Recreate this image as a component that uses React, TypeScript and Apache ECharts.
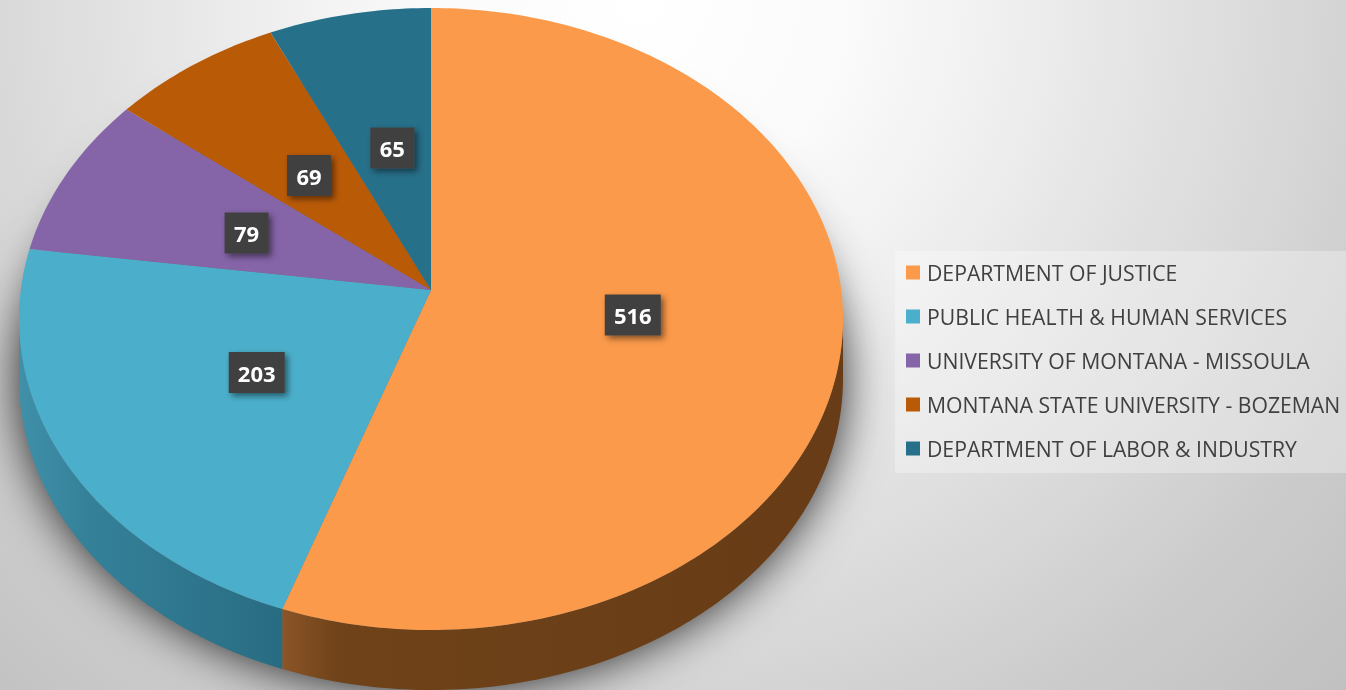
import React, { useEffect, useRef } from "react";
import * as echarts from "echarts";

const categories = [
  "DEPARTMENT OF JUSTICE",
  "PUBLIC HEALTH & HUMAN SERVICES",
  "UNIVERSITY OF MONTANA - MISSOULA",
  "MONTANA STATE UNIVERSITY - BOZEMAN",
  "DEPARTMENT OF LABOR & INDUSTRY",
];
const values = [516, 203, 79, 69, 65];
const colors = ["#FB9A4A", "#4BAFCB", "#8564A8", "#B95A07", "#27708A"];
const wallStops = [
  [[0, "#8B5528"], [0.1, "#6F4219"], [1, "#673C16"]],
  [[0, "#4090AA"], [0.25, "#35819A"], [1, "#286C82"]],
];
const labelNudge = [[-2, -3], [5, -2], [1, 0], [1, 0], [4, 0]];

// perspective disc: apex on screen, half axes, foreshortening, wall depth
const CX = 431, CY = 290, AX = 410.2, AY = 308.3, K = 0.0932, DEPTH = 60;
const total = values.reduce((a, b) => a + b, 0);
const project = (t: number, r = 1) => {
  const w = 1 + K * r * Math.cos(t);
  return [CX + (AX * r * Math.sin(t)) / w, CY - (AY * r * Math.cos(t)) / w];
};
const arc = (a: number, b: number) => {
  const n = Math.max(2, Math.ceil(((b - a) * 180) / Math.PI));
  const pts: number[][] = [];
  for (let i = 0; i <= n; i++) pts.push(project(a + ((b - a) * i) / n));
  return pts;
};
const WALL_A = Math.acos(-K);
const WALL_B = 2 * Math.PI - WALL_A;

const renderSlice = (index: number) => (_params: any, api: any) => {
  const value = api.value(0);
  let before = 0;
  for (let i = 0; i < index; i++) before += values[i];
  const a0 = (before / total) * 2 * Math.PI;
  const a1 = ((before + value) / total) * 2 * Math.PI;
  const children: any[] = [];
  const w0 = Math.max(a0, WALL_A);
  const w1 = Math.min(a1, WALL_B);
  if (w1 > w0) {
    const top = arc(w0, w1);
    const low = top.map((p) => [p[0], p[1] + DEPTH]).reverse();
    children.push({
      type: "polygon",
      shape: { points: top.concat(low) },
      style: {
        fill: {
          type: "linear", x: 0, y: 0, x2: 1, y2: 0,
          colorStops: wallStops[index].map((s) => ({ offset: s[0], color: s[1] })),
        },
      },
    });
  }
  children.push({
    type: "polygon",
    shape: { points: [[CX, CY]].concat(arc(a0, a1)) },
    style: { fill: colors[index] },
  });
  const mid = (a0 + a1) / 2;
  const c = project(mid, 0.5);
  const label = String(value);
  const bw = label.length * 12 + 20;
  const bh = 41;
  const lx = c[0] + labelNudge[index][0];
  const ly = c[1] + 2 + labelNudge[index][1];
  children.push({
    type: "rect",
    z2: 10,
    shape: { x: lx - bw / 2, y: ly - bh / 2, width: bw, height: bh },
    style: { fill: "#404040", shadowBlur: 6, shadowOffsetX: 3, shadowOffsetY: 3, shadowColor: "rgba(0,0,0,0.5)" },
  });
  children.push({
    type: "text",
    z2: 11,
    style: {
      x: lx, y: ly, text: label, fill: "#FFFFFF",
      font: "bold 22px 'Open Sans'", align: "center", verticalAlign: "middle",
    },
  });
  return { type: "group", children };
};

const pageBackground =
  "radial-gradient(circle 990px at 640px 0px, #FFFFFF 0px, #FBFBFB 198px, #F0F0F0 356px, #E2E2E2 525px, #D8D8D8 653px, #CCCCCC 792px, #C0C0C0 990px)";

export default function App() {
  const ref = useRef<HTMLDivElement>(null);
  useEffect(() => {
    const chart = echarts.init(ref.current!, null, { renderer: "svg" });
    chart.setOption({
      animation: false,
      backgroundColor: "transparent",
      legend: {
        data: categories,
        orient: "vertical",
        left: 906,
        top: 262,
        icon: "rect",
        itemWidth: 14,
        itemHeight: 14,
        itemGap: 23,
        padding: 0,
        textStyle: { color: "#404040", fontSize: 21.2, fontFamily: "'Open Sans'", padding: [0, 0, 0, 2] },
        selectedMode: false,
      },
      graphic: [
        {
          type: "rect",
          silent: true,
          shape: { x: 895, y: 251, width: 451, height: 222 },
          style: { fill: "rgba(255,255,255,0.3)" },
        },
        {
          type: "ellipse",
          silent: true,
          shape: { cx: CX, cy: 379, rx: 410, ry: 309 },
          style: { fill: "#777777", shadowBlur: 50, shadowColor: "rgba(0,0,0,0.9)" },
        },
      ],
      series: categories.map((name, i) => ({
        type: "custom",
        name,
        coordinateSystem: "none",
        itemStyle: { color: colors[i] },
        data: [values[i]],
        renderItem: renderSlice(i),
      })),
    });
    return () => chart.dispose();
  }, []);
  return (
    <div
      ref={ref}
      style={{ position: "fixed", left: 0, top: 0, width: 1346, height: 690, background: pageBackground }}
    />
  );
}
